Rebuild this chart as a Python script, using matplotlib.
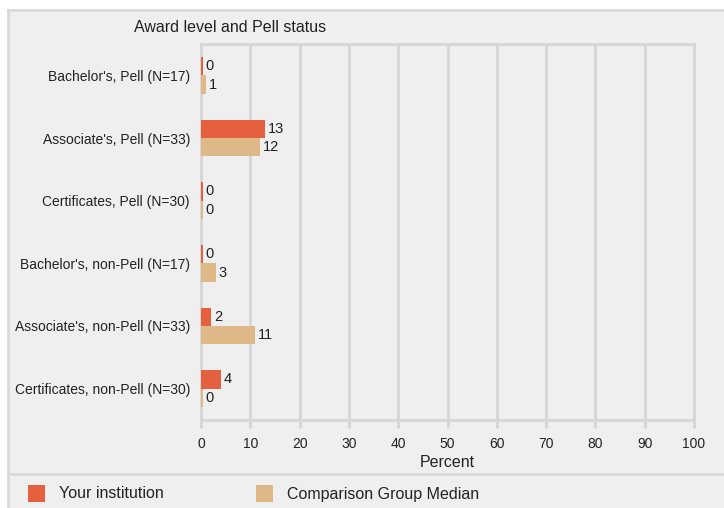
import numpy as np
import matplotlib
matplotlib.use('Agg')
import matplotlib.pyplot as plt
from matplotlib.patches import Rectangle
from matplotlib.lines import Line2D

categories = ["Bachelor's, Pell (N=17)", "Associate's, Pell (N=33)", "Certificates, Pell (N=30)",
              "Bachelor's, non-Pell (N=17)", "Associate's, non-Pell (N=33)", "Certificates, non-Pell (N=30)"]
your_inst = [0, 13, 0, 0, 2, 4]
comp_median = [1, 12, 0, 3, 11, 0]
xticks = [0, 10, 20, 30, 40, 50, 60, 70, 80, 90, 100]

RED = '#e4603e'
TAN = '#deb887'
GRID = '#d6d6d6'
BG = '#efefef'

plt.rcParams['font.family'] = ['Liberation Sans', 'DejaVu Sans']

fig = plt.figure(figsize=(7.24, 5.08), dpi=100)
fig.patch.set_facecolor('white')
# gray panel
fig.patches.append(Rectangle((8/724, 0), 1, 1 - 10/508, transform=fig.transFigure,
                             facecolor=BG, edgecolor='none', zorder=-5))
fig.lines.append(Line2D([8/724, 1], [1 - 10/508, 1 - 10/508], transform=fig.transFigure,
                        color='#d9d9d9', lw=2, zorder=-4))
fig.lines.append(Line2D([8/724, 8/724], [0, 1 - 10/508], transform=fig.transFigure,
                        color='#d9d9d9', lw=2, zorder=-4))
fig.lines.append(Line2D([8/724, 1], [1 - 474/508, 1 - 474/508], transform=fig.transFigure,
                        color='#d9d9d9', lw=2, zorder=-4))

ax = fig.add_axes([201/724, 1 - 420/508, 493/724, 376/508])
ax.set_facecolor(BG)
ax.patch.set_alpha(0)

y = np.arange(len(categories))
h = 0.295
min_w = 0.35
for i in range(len(categories)):
    v1, v2 = your_inst[i], comp_median[i]
    ax.barh(y[i] - h/2, max(v1, min_w), height=h, color=RED, zorder=3)
    ax.barh(y[i] + h/2, max(v2, min_w), height=h, color=TAN, zorder=3)
    ax.text(max(v1, min_w) + 0.6, y[i] - h/2, str(v1), va='center', ha='left', fontsize=10.5, color='#222222')
    ax.text(max(v2, min_w) + 0.6, y[i] + h/2, str(v2), va='center', ha='left', fontsize=10.5, color='#222222')

ax.set_xlim(0, 100)
ax.set_ylim(len(categories) - 0.5, -0.5)
ax.set_yticks(y)
ax.set_yticklabels(categories, fontsize=10, color='#222222')
ax.tick_params(axis='y', length=0, pad=8)
ax.set_xticks(xticks)
ax.set_xticklabels([str(t) for t in xticks], fontsize=10, color='#222222')
ax.tick_params(axis='x', length=6, width=2, color=GRID, pad=6)
for t in xticks:
    ax.axvline(t, color=GRID, lw=2, zorder=1)
for s in ['top', 'right', 'left', 'bottom']:
    ax.spines[s].set_color(GRID)
    ax.spines[s].set_linewidth(2)
ax.set_xlabel('Percent', fontsize=11.5, color='#222222', labelpad=3)

fig.text(230/724, 1 - 28/508, 'Award level and Pell status', ha='center', va='center',
         fontsize=11.5, color='#222222')

# legend
fig.patches.append(Rectangle((28/724, 1 - 502/508), 17/724, 17/508, transform=fig.transFigure,
                             facecolor=RED, edgecolor='none'))
fig.text(59/724, 1 - 494/508, 'Your institution', ha='left', va='center', fontsize=11.5, color='#222222')
fig.patches.append(Rectangle((256/724, 1 - 502/508), 17/724, 17/508, transform=fig.transFigure,
                             facecolor=TAN, edgecolor='none'))
fig.text(287/724, 1 - 494/508, 'Comparison Group Median', ha='left', va='center', fontsize=11.5, color='#222222')

fig.savefig('out.png', dpi=100, facecolor=fig.get_facecolor())
